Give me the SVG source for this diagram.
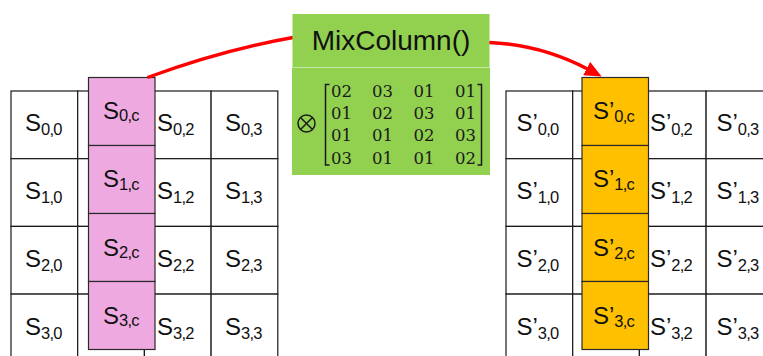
<svg xmlns="http://www.w3.org/2000/svg" width="763" height="356" viewBox="0 0 763 356">
  <defs>
    <style>
      .cell { fill: #ffffff; stroke: #1a1a1a; stroke-width: 1.2; }
      .pink { fill: #eeaae0; stroke: #2a2a2a; stroke-width: 1.2; }
      .gold { fill: #ffc000; stroke: #2a2a2a; stroke-width: 1.2; }
      .green { fill: #92d050; }
      .lbl { font-family: "Liberation Sans", Arial, sans-serif; font-size: 24px; fill: #111; }
      .sub { font-size: 16.5px; letter-spacing: -0.8px; }
      .title { font-family: "Liberation Sans", Arial, sans-serif; font-size: 28px; fill: #111; }
      .num { font-family: "DejaVu Serif", "Liberation Serif", serif; font-size: 16.5px; fill: #1a1a1a; }
      .brk { fill: none; stroke: #1a1a1a; stroke-width: 1.5; }
      .flow { fill: none; stroke: #ff0000; stroke-width: 3.3; }
    </style>
    <marker id="head" markerUnits="userSpaceOnUse" viewBox="0 0 17 15" refX="1" refY="7.5" markerWidth="17" markerHeight="15" orient="auto">
      <path d="M0,0 L17,7.5 L0,15 z" fill="#ff0000"/>
    </marker>
  </defs>

  <!-- left state matrix -->
  <g id="state-in">
    <g id="in-grid">
      <rect class="cell" x="11" y="91" width="66.7" height="67.7"/>
      <rect class="cell" x="77.7" y="91" width="66.7" height="67.7"/>
      <rect class="cell" x="144.4" y="91" width="66.7" height="67.7"/>
      <rect class="cell" x="211.1" y="91" width="66.7" height="67.7"/>
      <rect class="cell" x="11" y="158.7" width="66.7" height="67.7"/>
      <rect class="cell" x="77.7" y="158.7" width="66.7" height="67.7"/>
      <rect class="cell" x="144.4" y="158.7" width="66.7" height="67.7"/>
      <rect class="cell" x="211.1" y="158.7" width="66.7" height="67.7"/>
      <rect class="cell" x="11" y="226.4" width="66.7" height="67.7"/>
      <rect class="cell" x="77.7" y="226.4" width="66.7" height="67.7"/>
      <rect class="cell" x="144.4" y="226.4" width="66.7" height="67.7"/>
      <rect class="cell" x="211.1" y="226.4" width="66.7" height="67.7"/>
      <rect class="cell" x="11" y="294.1" width="66.7" height="67.7"/>
      <rect class="cell" x="77.7" y="294.1" width="66.7" height="67.7"/>
      <rect class="cell" x="144.4" y="294.1" width="66.7" height="67.7"/>
      <rect class="cell" x="211.1" y="294.1" width="66.7" height="67.7"/>
    </g>
    <g id="in-labels" class="lbl">
      <text x="25" y="131">S<tspan class="sub" dy="4">0,0</tspan></text>
      <text x="157" y="131">S<tspan class="sub" dy="4">0,2</tspan></text>
      <text x="225" y="131">S<tspan class="sub" dy="4">0,3</tspan></text>
      <text x="25" y="199">S<tspan class="sub" dy="4">1,0</tspan></text>
      <text x="157" y="199">S<tspan class="sub" dy="4">1,2</tspan></text>
      <text x="225" y="199">S<tspan class="sub" dy="4">1,3</tspan></text>
      <text x="25" y="267">S<tspan class="sub" dy="4">2,0</tspan></text>
      <text x="157" y="267">S<tspan class="sub" dy="4">2,2</tspan></text>
      <text x="225" y="267">S<tspan class="sub" dy="4">2,3</tspan></text>
      <text x="25" y="335">S<tspan class="sub" dy="4">3,0</tspan></text>
      <text x="157" y="335">S<tspan class="sub" dy="4">3,2</tspan></text>
      <text x="225" y="335">S<tspan class="sub" dy="4">3,3</tspan></text>
    </g>
  </g>

  <!-- input column c -->
  <g id="col-in">
    <g id="s0c"><rect class="pink" x="88.5" y="77.5" width="66.5" height="68"/><text class="lbl" x="103" y="118.5">S<tspan class="sub" dy="2.5">0,c</tspan></text></g>
    <g id="s1c"><rect class="pink" x="88.5" y="145.5" width="66.5" height="68"/><text class="lbl" x="103" y="187">S<tspan class="sub" dy="2.5">1,c</tspan></text></g>
    <g id="s2c"><rect class="pink" x="88.5" y="213.5" width="66.5" height="68"/><text class="lbl" x="103" y="255.5">S<tspan class="sub" dy="2.5">2,c</tspan></text></g>
    <g id="s3c"><rect class="pink" x="88.5" y="281.5" width="66.5" height="68"/><text class="lbl" x="103" y="323.5">S<tspan class="sub" dy="2.5">3,c</tspan></text></g>
  </g>

  <!-- right state matrix -->
  <g id="state-out">
    <g id="out-grid">
      <rect class="cell" x="506" y="91" width="66.7" height="67.7"/>
      <rect class="cell" x="572.7" y="91" width="66.7" height="67.7"/>
      <rect class="cell" x="639.4" y="91" width="66.7" height="67.7"/>
      <rect class="cell" x="706.1" y="91" width="66.7" height="67.7"/>
      <rect class="cell" x="506" y="158.7" width="66.7" height="67.7"/>
      <rect class="cell" x="572.7" y="158.7" width="66.7" height="67.7"/>
      <rect class="cell" x="639.4" y="158.7" width="66.7" height="67.7"/>
      <rect class="cell" x="706.1" y="158.7" width="66.7" height="67.7"/>
      <rect class="cell" x="506" y="226.4" width="66.7" height="67.7"/>
      <rect class="cell" x="572.7" y="226.4" width="66.7" height="67.7"/>
      <rect class="cell" x="639.4" y="226.4" width="66.7" height="67.7"/>
      <rect class="cell" x="706.1" y="226.4" width="66.7" height="67.7"/>
      <rect class="cell" x="506" y="294.1" width="66.7" height="67.7"/>
      <rect class="cell" x="572.7" y="294.1" width="66.7" height="67.7"/>
      <rect class="cell" x="639.4" y="294.1" width="66.7" height="67.7"/>
      <rect class="cell" x="706.1" y="294.1" width="66.7" height="67.7"/>
    </g>
    <g id="out-labels" class="lbl">
      <text x="516.5" y="131">S’<tspan class="sub" dy="4">0,0</tspan></text>
      <text x="650" y="131">S’<tspan class="sub" dy="4">0,2</tspan></text>
      <text x="716.5" y="131">S’<tspan class="sub" dy="4">0,3</tspan></text>
      <text x="516.5" y="199">S’<tspan class="sub" dy="4">1,0</tspan></text>
      <text x="650" y="199">S’<tspan class="sub" dy="4">1,2</tspan></text>
      <text x="716.5" y="199">S’<tspan class="sub" dy="4">1,3</tspan></text>
      <text x="516.5" y="267">S’<tspan class="sub" dy="4">2,0</tspan></text>
      <text x="650" y="267">S’<tspan class="sub" dy="4">2,2</tspan></text>
      <text x="716.5" y="267">S’<tspan class="sub" dy="4">2,3</tspan></text>
      <text x="516.5" y="335">S’<tspan class="sub" dy="4">3,0</tspan></text>
      <text x="650" y="335">S’<tspan class="sub" dy="4">3,2</tspan></text>
      <text x="716.5" y="335">S’<tspan class="sub" dy="4">3,3</tspan></text>
    </g>
  </g>

  <!-- output column c -->
  <g id="col-out">
    <g id="t0c"><rect class="gold" x="582" y="77.5" width="66.5" height="68"/><text class="lbl" x="593" y="118.5">S’<tspan class="sub" dy="3">0,c</tspan></text></g>
    <g id="t1c"><rect class="gold" x="582" y="145.5" width="66.5" height="68"/><text class="lbl" x="593" y="187">S’<tspan class="sub" dy="3">1,c</tspan></text></g>
    <g id="t2c"><rect class="gold" x="582" y="213.5" width="66.5" height="68"/><text class="lbl" x="593" y="255.5">S’<tspan class="sub" dy="3">2,c</tspan></text></g>
    <g id="t3c"><rect class="gold" x="582" y="281.5" width="66.5" height="68"/><text class="lbl" x="593" y="323.5">S’<tspan class="sub" dy="3">3,c</tspan></text></g>
  </g>

  <!-- connectors -->
  <g id="connectors">
    <path class="flow" d="M147.5,77.5 Q222,50 293,37.5"/>
    <path class="flow" d="M489,42.5 Q541,44.5 587.5,69" marker-end="url(#head)"/>
  </g>

  <!-- MixColumn operation -->
  <g id="mixcolumn">
    <rect class="green" x="292.5" y="14" width="197" height="53"/>
    <rect class="green" x="292" y="67.5" width="198" height="107.5"/>
    <text class="title" x="391" y="50" text-anchor="middle">MixColumn()</text>
    <g id="otimes" fill="none" stroke="#1a1a1a" stroke-width="1.5">
      <circle cx="306.5" cy="123.5" r="8.5"/>
      <path d="M300.5,117.5 L312.5,129.5 M312.5,117.5 L300.5,129.5"/>
    </g>
    <path class="brk" d="M329.5,84.5 H325.5 V165 H329.5"/>
    <path class="brk" d="M477.5,84.5 H481.5 V165 H477.5"/>
    <g class="num">
      <text x="331" y="97">02</text><text x="372" y="97">03</text><text x="413.5" y="97">01</text><text x="455" y="97">01</text>
      <text x="331" y="119.2">01</text><text x="372" y="119.2">02</text><text x="413.5" y="119.2">03</text><text x="455" y="119.2">01</text>
      <text x="331" y="141.4">01</text><text x="372" y="141.4">01</text><text x="413.5" y="141.4">02</text><text x="455" y="141.4">03</text>
      <text x="331" y="163.6">03</text><text x="372" y="163.6">01</text><text x="413.5" y="163.6">01</text><text x="455" y="163.6">02</text>
    </g>
  </g>
</svg>
